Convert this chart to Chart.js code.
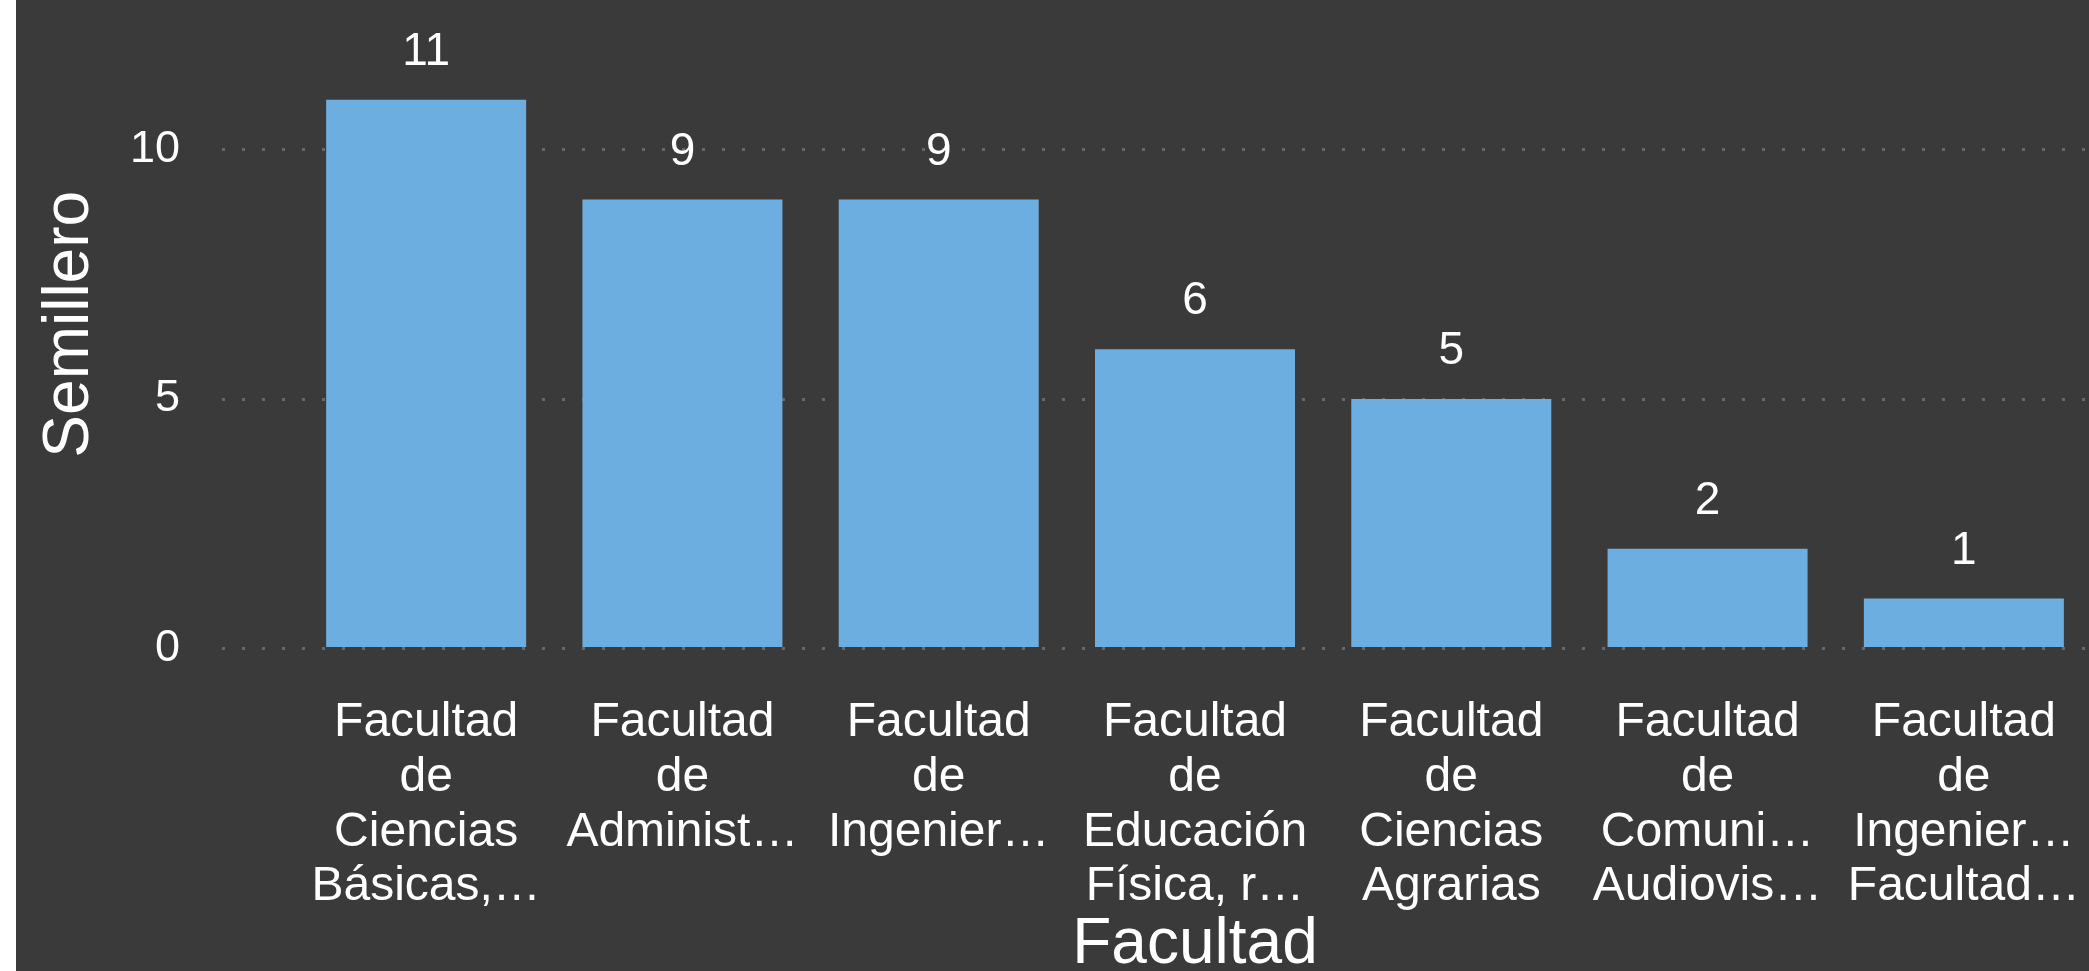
<!DOCTYPE html>
<html lang="es">
<head>
<meta charset="utf-8">
<title>Semillero por Facultad</title>
<script src="https://cdn.jsdelivr.net/npm/chart.js@4.4.1/dist/chart.umd.min.js"></script>
<style>
    html, body {
        margin: 0;
        padding: 0;
        background: #ffffff;
        overflow: hidden;
    }
    #panel {
        position: absolute;
        left: 16px;
        top: 0;
        right: 0;
        bottom: 0;
        background: #3a3a3a;
        overflow: hidden;
    }
    #chart {
        display: block;
        width: 2076px;
        height: 971px;
    }
</style>
</head>
<body>
<div id="panel">
    <canvas id="chart" width="2076" height="971"></canvas>
</div>
<script>
// ─── Data ───────────────────────────────────────────────────────────────────

const categories = [
    ["Facultad", "de", "Ciencias", "Básicas,…"],
    ["Facultad", "de", "Administ…"],
    ["Facultad", "de", "Ingenier…"],
    ["Facultad", "de", "Educación", "Física, r…"],
    ["Facultad", "de", "Ciencias", "Agrarias"],
    ["Facultad", "de", "Comuni…", "Audiovis…"],
    ["Facultad", "de", "Ingenier…", "Facultad…"],
];

const semilleros = [11, 9, 9, 6, 5, 2, 1];

const yTicks = [0, 5, 10];

// ─── Styles ─────────────────────────────────────────────────────────────────

const FONT = "'Liberation Sans', Arial, sans-serif";
const TEXT = "#ffffff";
const BAR = "#6daee0";
const GRID = "#686868";

// Value labels above the bars (no datalabels plugin offline, so draw them here)
const valueLabels = {
    id: "valueLabels",
    afterDatasetsDraw(chart) {
        const {ctx} = chart;
        const meta = chart.getDatasetMeta(0);
        ctx.save();
        ctx.fillStyle = TEXT;
        ctx.font = `46px ${FONT}`;
        ctx.textAlign = "center";
        ctx.textBaseline = "alphabetic";
        meta.data.forEach((bar, i) => {
            ctx.fillText(String(semilleros[i]), bar.x, bar.y - 35);
        });
        ctx.restore();
    },
};

new Chart(document.getElementById("chart"), {
    type: "bar",
    data: {
        labels: categories,
        datasets: [{
            label: "Semillero",
            data: semilleros,
            backgroundColor: BAR,
            borderWidth: 0,
            categoryPercentage: 1,
            barPercentage: 0.7804,
        }],
    },
    options: {
        responsive: false,
        animation: false,
        layout: {padding: 0},
        plugins: {
            legend: {display: false},
            tooltip: {enabled: false},
        },
        scales: {
            x: {
                grid: {display: false, drawTicks: false},
                border: {display: false},
                ticks: {
                    color: TEXT,
                    font: {family: FONT, size: 48, lineHeight: 1.14},
                    padding: 47,
                    maxRotation: 0,
                    autoSkip: false,
                },
                title: {
                    display: true,
                    text: "Facultad",
                    color: TEXT,
                    font: {family: FONT, size: 64, lineHeight: 0.8},
                    padding: 0,
                },
                afterFit(scale) {
                    // fixed box, no extra side padding for the edge labels
                    scale.height = 322.5;
                    scale.paddingLeft = 0;
                    scale.paddingRight = 0;
                },
            },
            y: {
                min: 0,
                max: 13,
                afterBuildTicks(scale) {
                    scale.ticks = yTicks.map((v) => ({value: v}));
                },
                grid: {
                    color: GRID,
                    lineWidth: 3,
                    drawTicks: true,
                    // tick marks extend the dotted line left of the plot area
                    tickLength: 76,
                    tickColor: GRID,
                    tickWidth: 3,
                    tickBorderDash: [3, 17],
                    tickBorderDashOffset: 0,
                },
                border: {
                    display: false,
                    dash: [3, 17],
                    dashOffset: 16,
                },
                ticks: {
                    color: TEXT,
                    font: {family: FONT, size: 45},
                    padding: 42,
                },
                title: {
                    display: true,
                    text: "Semillero",
                    color: TEXT,
                    font: {family: FONT, size: 64, lineHeight: 1},
                    padding: {top: 22, bottom: 0},
                },
                afterFit(scale) {
                    scale.width = 282;
                    scale.paddingTop = 0;
                    scale.paddingBottom = 0;
                },
            },
        },
    },
    plugins: [valueLabels],
});
</script>
</body>
</html>
